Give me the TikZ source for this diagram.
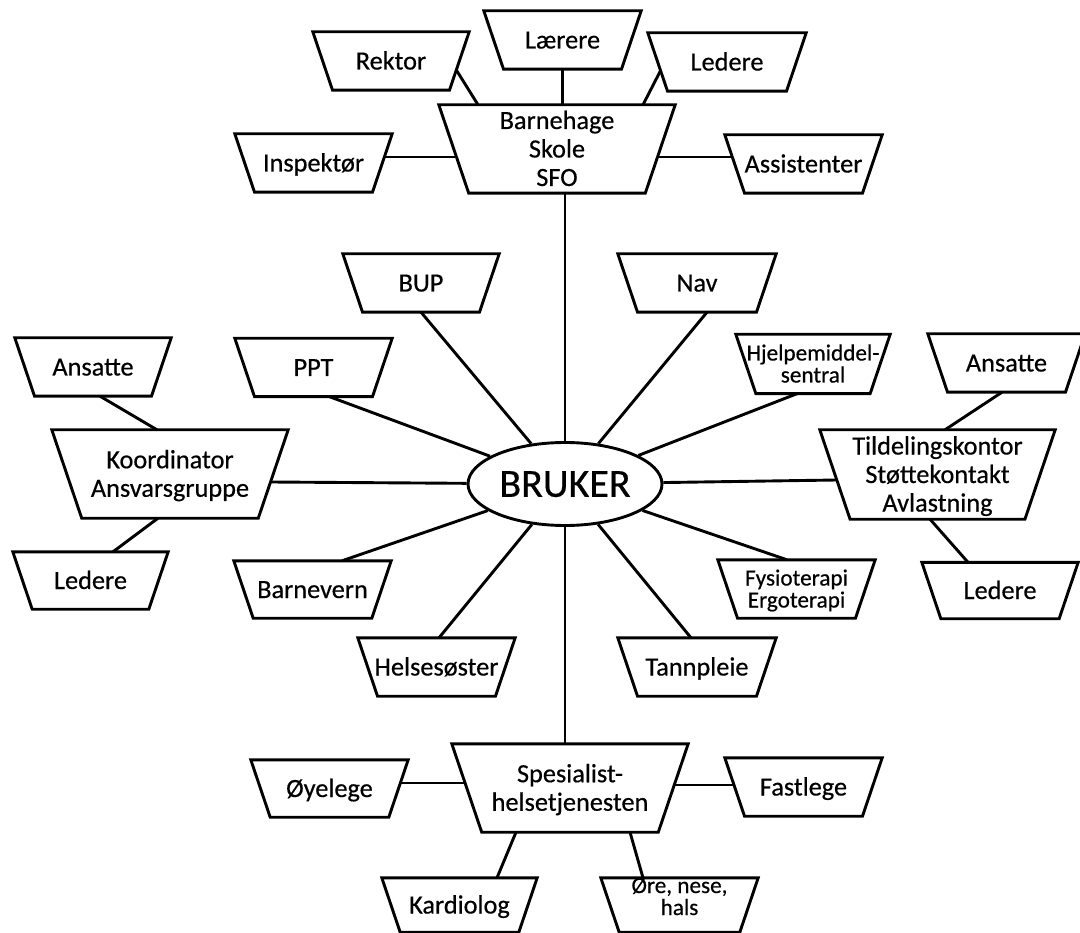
\documentclass[tikz,border=0pt]{standalone}
\usepackage{fontspec}
\setmainfont{Carlito}[FakeBold=0.5]
\usetikzlibrary{calc,shapes.geometric}
\tikzset{
  boxline/.style={line width=2.9pt, line join=miter},
  conn/.style={line width=2.9pt},
  boxtext/.style={rectangle, inner sep=0pt, align=center,
    font=\fontsize{26.3}{28.5}\selectfont, text height=17pt, text depth=0pt},
  two/.style={text height=45.5pt, text depth=0pt},
  three/.style={text height=74pt, text depth=0pt},
  small/.style={font=\fontsize{23.2}{22}\selectfont, text height=37pt, text depth=0pt},
  smalllow/.style={font=\fontsize{23.2}{22}\selectfont, text height=37pt, text depth=17pt},
  bruker/.style={ellipse, draw, line width=2.9pt, minimum width=194pt, minimum height=83pt,
    inner sep=0pt, font=\fontsize{40}{42}\selectfont, text height=25.7pt, text depth=0pt},
}
% name, position, top width, height, extra style, text
\newcommand\trapnode[6]{%
  \node[boxtext,#5,minimum width=#3pt,minimum height=#4pt] (#1) at #2 {#6};
  \draw[boxline] (#1.north west) -- (#1.north east)
    -- ([xshift=-0.34*#4pt]#1.south east) -- ([xshift=0.34*#4pt]#1.south west) -- cycle;
}
\begin{document}
\begin{tikzpicture}[x=1pt,y=-1pt]
\fill[white] (0,0) rectangle (1080,933);
\useasboundingbox (0,0) rectangle (1080,933);

% top cluster
\trapnode{rektor}{(391,61)}{156}{58}{}{Rektor}
\trapnode{laerere}{(562.5,40)}{157}{58}{}{Lærere}
\trapnode{ledereT}{(727,62)}{158}{58}{}{Ledere}
\trapnode{barnehage}{(557,149)}{236}{88}{three}{Barnehage\\Skole\\SFO}
\trapnode{inspektor}{(313.5,163)}{157}{58}{}{Inspektør}
\trapnode{assistenter}{(803.5,164)}{157}{58}{}{Assistenter}

% centre
\node[bruker] (bruker) at (565,484) {BRUKER};

% spokes
\trapnode{bup}{(421,283)}{156}{58}{}{BUP}
\trapnode{nav}{(697,283)}{158}{58}{}{Nav}
\trapnode{ppt}{(313.5,367.5)}{157}{58}{}{PPT}
\trapnode{hjelp}{(813,364)}{154}{59}{small}{Hjelpemiddel-\\sentral}
\trapnode{barnevern}{(312.5,589.5)}{157}{57}{}{Barnevern}
\trapnode{fysio}{(796.5,589)}{157}{58}{small}{Fysioterapi\\Ergoterapi}
\trapnode{helse}{(436.5,667)}{157}{58}{}{Helsesøster}
\trapnode{tann}{(697,667)}{158}{58}{}{Tannpleie}

% left cluster
\trapnode{ansattL}{(93,367)}{156}{58}{}{Ansatte}
\trapnode{koord}{(170,474)}{236}{88}{two}{Koordinator\\Ansvarsgruppe}
\trapnode{ledereL}{(90.5,580.5)}{155}{57}{}{Ledere}

% right cluster
\trapnode{ansattR}{(1006.5,363)}{157}{58}{}{Ansatte}
\trapnode{tild}{(937.5,474.5)}{235}{89}{three}{Tildelingskontor\\Støttekontakt\\Avlastning}
\trapnode{ledereR}{(1000,590.5)}{156}{56}{}{Ledere}

% bottom cluster
\trapnode{spes}{(570,788)}{236}{88}{two}{Spesialist-\\helsetjenesten}
\trapnode{oye}{(329.5,788.5)}{157}{57}{}{Øyelege}
\trapnode{fast}{(803.5,787)}{157}{58}{}{Fastlege}
\trapnode{kardio}{(459.5,905)}{155}{54}{}{Kardiolog}
\trapnode{ore}{(679.5,905)}{157}{54}{smalllow}{Øre, nese,\\hals}

% connectors: top cluster
\draw[conn] (laerere.south) -- (laerere.south |- barnehage.north);
\draw[conn] ($(rektor.east)+(-12.9,9)$) -- ($(barnehage.north)+(-79,0)$);
\draw[conn] ($(ledereT.west)+(12.8,8.5)$) -- ($(barnehage.north)+(86,0)$);
\draw[conn] ($(inspektor.east)+(-7.8,-6)$) -- ($(barnehage.west)+(17.7,8)$);
\draw[conn] ($(barnehage.east)+(-17.7,8)$) -- ($(assistenter.west)+(7.5,-7)$);
\draw[conn] (barnehage.south -| bruker.north) -- (bruker.north);

% connectors: spokes
\draw[conn] (bup.south) -- (bruker);
\draw[conn] ($(nav.south)+(10,0)$) -- (bruker);
\draw[conn] ($(ppt.south)+(16,0)$) -- (bruker);
\draw[conn] ($(hjelp.south)+(-16,0)$) -- (bruker);
\draw[conn] ($(koord.east)+(-17.7,8)$) -- (bruker);
\draw[conn] ($(tild.west)+(17,5.5)$) -- (bruker);
\draw[conn] ($(barnevern.north)+(29.5,0)$) -- (bruker);
\draw[conn] ($(fysio.north)+(-9.5,0)$) -- (bruker);
\draw[conn] ($(helse.north)+(2.5,0)$) -- (bruker);
\draw[conn] ($(tann.north)+(-6,0)$) -- (bruker);
\draw[conn] (bruker.south) -- (bruker.south |- spes.north);

% connectors: bottom cluster
\draw[conn] ($(oye.east)+(-7.8,-5.5)$) -- ($(spes.west)+(13.3,-5)$);
\draw[conn] ($(spes.east)+(-13.9,-3)$) -- ($(fast.west)+(9.2,-2)$);
\draw[conn] ($(spes.south)+(-54,0)$) -- ($(kardio.north)+(37.5,0)$);
\draw[conn] ($(spes.south)+(60,0)$) -- ($(ore.north)+(-36.5,0)$);

% connectors: side clusters
\draw[conn] ($(ansattL.south)+(7,0)$) -- ($(koord.north)+(-13,0)$);
\draw[conn] ($(koord.south)+(-12,0)$) -- ($(ledereL.north)+(22.5,0)$);
\draw[conn] ($(ansattR.south)+(-4.5,0)$) -- ($(tild.north)+(7.5,0)$);
\draw[conn] ($(tild.south)+(-7.5,0)$) -- ($(ledereR.north)+(-32,0)$);
\end{tikzpicture}
\end{document}
